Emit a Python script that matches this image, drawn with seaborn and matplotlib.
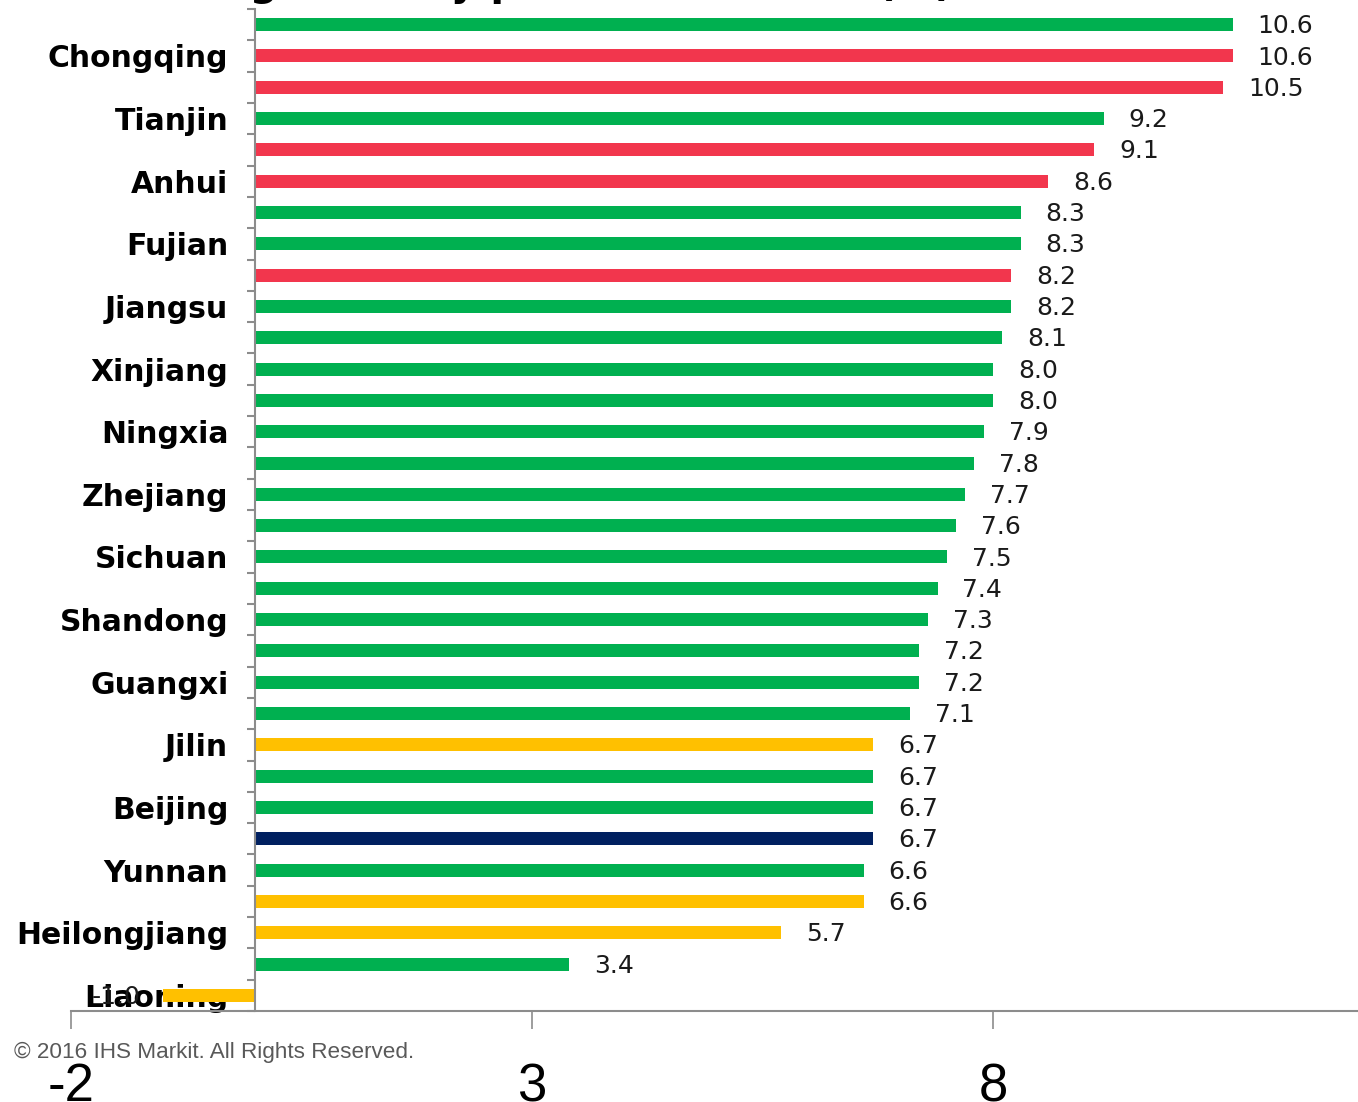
import numpy as np
import pandas as pd
import matplotlib
matplotlib.use("Agg")
import matplotlib.pyplot as plt
import seaborn as sns
from matplotlib.ticker import FixedLocator

# Real GDP growth by province (%), sorted from highest to lowest
growth = [10.6, 10.6, 10.5, 9.2, 9.1, 8.6, 8.3, 8.3, 8.2, 8.2, 8.1, 8.0,
          8.0, 7.9, 7.8, 7.7, 7.6, 7.5, 7.4, 7.3, 7.2, 7.2, 7.1, 6.7,
          6.7, 6.7, 6.7, 6.6, 6.6, 5.7, 3.4, -1.0]

# Axis labels shown on every second bar
province_labels = ["", "Chongqing", "", "Tianjin", "", "Anhui", "", "Fujian",
                   "", "Jiangsu", "", "Xinjiang", "", "Ningxia", "", "Zhejiang",
                   "", "Sichuan", "", "Shandong", "", "Guangxi", "", "Jilin",
                   "", "Beijing", "", "Yunnan", "", "Heilongjiang", "", "Liaoning"]

# Colour band of each bar
bands = ["green", "red", "red", "green", "red", "red", "green", "green",
         "red", "green", "green", "green", "green", "green", "green", "green",
         "green", "green", "green", "green", "green", "green", "green", "amber",
         "green", "green", "navy", "green", "amber", "amber", "green", "amber"]

x_ticks = [-2, 3, 8]

palette = {"green": "#00B050", "red": "#F2364D", "amber": "#FFC000", "navy": "#002060"}

sns.set_style("white")
plt.rcParams["font.family"] = ["DejaVu Sans"]

df = pd.DataFrame({"rank": list(range(len(growth))), "growth": growth, "band": bands})

W, H = 1358, 1102
fig = plt.figure(figsize=(W / 100, H / 100), dpi=100)
ax = fig.add_axes([71 / W, 1 - 1011 / H, 1 - 71 / W, (1011 - 9) / H])

sns.barplot(data=df, x="growth", y="rank", hue="band", palette=palette,
            orient="h", width=0.415, dodge=False, legend=False,
            saturation=1, linewidth=0, ax=ax)

n = len(growth)
ax.set_ylim(n - 0.5, -0.5)
ax.set_xlim(-2, 11.96)
ax.set_xlabel("")
ax.set_ylabel("")
ax.grid(False)

axis_grey = "#8c8c8c"
for side in ("top", "right"):
    ax.spines[side].set_visible(False)
ax.spines["left"].set_position(("data", 0))
for side in ("left", "bottom"):
    ax.spines[side].set_color(axis_grey)
    ax.spines[side].set_linewidth(1.5)

# Category axis: labels on bars, tick marks between bars
ax.set_yticks(range(n))
ax.set_yticklabels(province_labels)
ax.yaxis.set_minor_locator(FixedLocator(np.arange(-0.5, n + 0.5, 1)))
ax.tick_params(axis="y", which="major", length=0, pad=19.5, labelsize=21.5)
ax.tick_params(axis="y", which="minor", length=5.8, width=1.5, color=axis_grey, left=True)
for lab in ax.get_yticklabels():
    lab.set_fontweight("bold")
    lab.set_color("black")

# Value axis
ax.set_xticks(x_ticks)
ax.set_xticklabels([str(t) for t in x_ticks])
ax.tick_params(axis="x", which="major", length=13, width=1.2, color=axis_grey,
               labelsize=38, pad=24, bottom=True)
for lab in ax.get_xticklabels():
    lab.set_family("Liberation Sans")
    lab.set_color("black")

# Value labels at the bar ends
for i, v in enumerate(growth):
    if v >= 0:
        ax.text(v + 0.27, i + 0.05, f"{v:.1f}", ha="left", va="center",
                fontsize=18, color="#1a1a1a")
    else:
        ax.text(v - 0.25, i + 0.05, f"{v:.1f}", ha="right", va="center",
                fontsize=18, color="#1a1a1a")

# Title (runs off the top edge)
title_font = dict(fontsize=28.5, fontweight="bold", color="black")
renderer = fig.canvas.get_renderer()
probe = fig.text(0, 0, "Real GDP ", **title_font)
prefix_w = probe.get_window_extent(renderer).width
probe.remove()
fig.text((250 - prefix_w) / W, 1 + 5 / H, "Real GDP growth by province in 2016 (%)",
         ha="left", va="baseline", **title_font)

fig.text(14 / W, 1 - 1058 / H, "\u00a9 2016 IHS Markit. All Rights Reserved.",
         ha="left", va="baseline", fontsize=16.2, color="#595959",
         family="Liberation Sans")

fig.savefig("out.png", dpi=100)
